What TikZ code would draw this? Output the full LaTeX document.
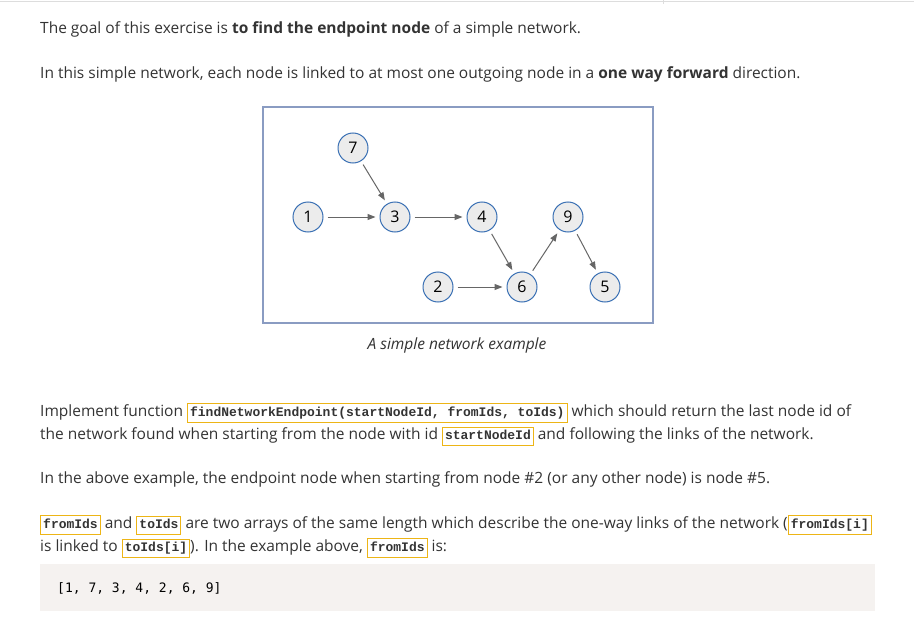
\documentclass[tikz,border=0pt]{standalone}
\usepackage{fontspec}
\setmainfont{Open Sans}
\newfontfamily\codefont{Liberation Mono}
\newfontfamily\blockfont{DejaVu Sans Mono}
\usetikzlibrary{arrows.meta}
\definecolor{txt}{HTML}{333333}
\definecolor{codeborder}{HTML}{EDB516}
\definecolor{nodeborder}{HTML}{3A70B4}
\definecolor{nodefill}{HTML}{ECECEC}
\definecolor{frameborder}{HTML}{8A9CC2}
\definecolor{arrowcol}{HTML}{666666}
\definecolor{blockbg}{HTML}{F5F2F0}
\definecolor{topline}{HTML}{DDDDDD}
\newcommand{\cb}[1]{{\setlength{\fboxsep}{2pt}\setlength{\fboxrule}{1pt}\fcolorbox{codeborder}{white}{\codefont\bfseries\fontsize{13}{13}\selectfont\strut #1}}}
\tikzset{
  txtline/.style={anchor=base west, inner sep=0pt, text=txt, font=\fontsize{15.5}{18}\selectfont},
  netnode/.style={circle, draw=nodeborder, fill=nodefill, line width=1pt, minimum size=30pt, inner sep=0pt, text=black, font=\fontsize{16}{16}\selectfont},
  link/.style={draw=arrowcol, line width=1pt, -{Triangle[length=8pt,width=6pt]}, shorten <=4pt, shorten >=4pt}
}
\begin{document}
\begin{tikzpicture}[x=1pt,y=-1pt]
\useasboundingbox (0,0) rectangle (914,634);
\draw[topline, line width=1.5pt] (0,1.5) -- (914,1.5);
\draw[topline, line width=0.8pt] (663,0) -- (663,4);

\node[txtline] (l1) at (40,33.5) {The goal of this exercise is \textbf{to find the endpoint node} of a simple network.};
\node[txtline] (l2) at (40,78.5) {In this simple network, each node is linked to at most one outgoing node in a \textbf{one way forward} direction.};

\draw[frameborder, line width=1.5pt] (263,107) rectangle (653,323);
\node[netnode] (n7) at (353,148) {7};
\node[netnode] (n1) at (308,217) {1};
\node[netnode] (n3) at (395,217) {3};
\node[netnode] (n4) at (482,217) {4};
\node[netnode] (n9) at (568,217) {9};
\node[netnode] (n2) at (438,287) {2};
\node[netnode] (n6) at (522,287) {6};
\node[netnode] (n5) at (605,287) {5};
\draw[link] (n1) -- (n3);
\draw[link] (n7) -- (n3);
\draw[link] (n3) -- (n4);
\draw[link] (n4) -- (n6);
\draw[link] (n2) -- (n6);
\draw[link] (n6) -- (n9);
\draw[link] (n9) -- (n5);
\node[anchor=base, inner sep=0pt, text=txt, font=\fontsize{15.5}{18}\selectfont\itshape] (cap) at (457,349) {A simple network example};

\node[txtline] (l3) at (40,416) {Implement function \cb{findNetworkEndpoint(startNodeId, fromIds, toIds)} which should return the last node id of};
\node[txtline] (l4) at (40,439) {the network found when starting from the node with id \cb{startNodeId} and following the links of the network.};
\node[txtline] (l5) at (40,483) {In the above example, the endpoint node when starting from node \#2 (or any other node) is node \#5.};
\node[txtline] (l6) at (40,528) {\cb{fromIds} and \cb{toIds} are two arrays of the same length which describe the one-way links of the network (\cb{fromIds[i]}};
\node[txtline] (l7) at (40,551) {is linked to \cb{toIds[i]}). In the example above, \cb{fromIds} is:};

\fill[blockbg] (40,564) rectangle (875,611);
\node[anchor=base west, inner sep=0pt, text=black, font=\blockfont\fontsize{13}{13}\selectfont] (code) at (57,592) {[1, 7, 3, 4, 2, 6, 9]};
\end{tikzpicture}
\end{document}
